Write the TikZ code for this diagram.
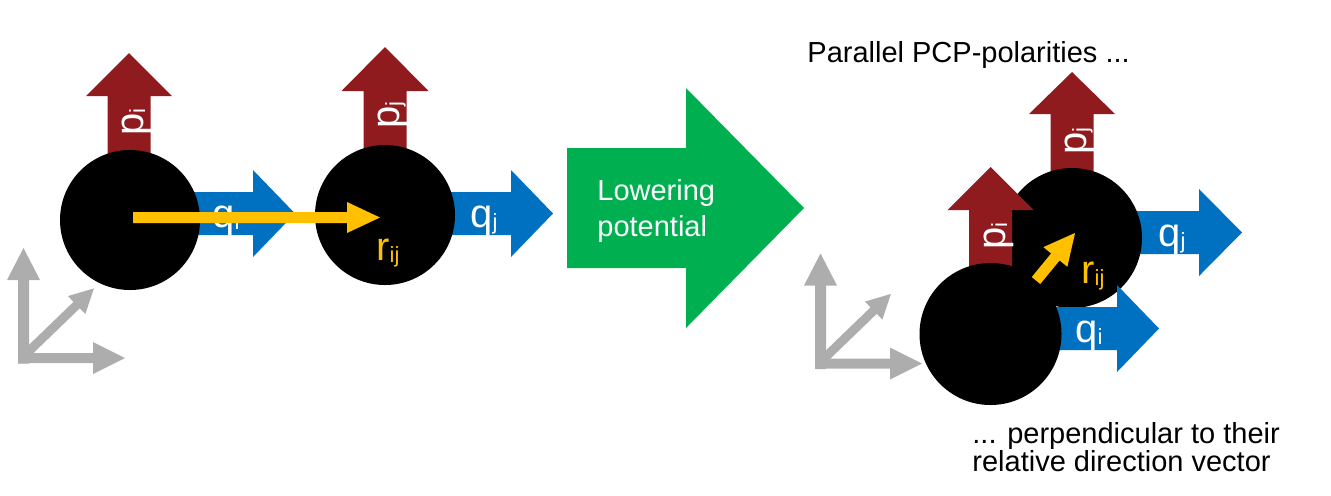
\documentclass[tikz,border=0pt]{standalone}
\usepackage{fontspec}
\setmainfont{Liberation Sans}

\newlength{\du}
\setlength{\du}{0.5pt}

\definecolor{polred}{rgb}{0.560000, 0.105000, 0.120000}
\definecolor{polblue}{rgb}{0.000000, 0.440000, 0.753000}
\definecolor{lowgreen}{rgb}{0.000000, 0.690000, 0.314000}
\definecolor{relyellow}{rgb}{1.000000, 0.753000, 0.000000}
\definecolor{axgray}{rgb}{0.680000, 0.680000, 0.680000}

% colour, x, y, angle, length, shaft half width, head half width, head length
\newcommand{\blockarrow}[8]{%
\fill[#1,shift={(#2\du,#3\du)},rotate=#4]
  (0,{-#6*\du}) -- ({(#5-#8)*\du},{-#6*\du}) -- ({(#5-#8)*\du},{-#7*\du})
  -- ({#5*\du},0) -- ({(#5-#8)*\du},{#7*\du}) -- ({(#5-#8)*\du},{#6*\du})
  -- (0,{#6*\du}) -- cycle;}

% grey frame at origin x, y
\newcommand{\refaxes}[2]{%
\begin{scope}[shift={(#1\du,#2\du)}]
\blockarrow{axgray}{0}{5.5}{-90}{115.5}{5.5}{16.5}{32}
\blockarrow{axgray}{-5.5}{0}{0}{107}{5}{16}{32}
\blockarrow{axgray}{3.5}{-5}{-44}{93}{4.5}{12.5}{24}
\end{scope}}

\newcommand{\lsub}[1]{\raisebox{-1pt}{\fontsize{11}{11}\selectfont #1}}

\begin{document}
\begin{tikzpicture}[
  ball/.style={circle,fill=black,inner sep=0pt,minimum size=140\du},
  lbl/.style={inner sep=0pt,text=white,font=\fontsize{20}{20}\selectfont},
  txt/.style={inner sep=0pt,font=\fontsize{14.5}{14}\selectfont}]
\pgftransformxscale{1.000000}
\pgftransformyscale{-1.000000}
\useasboundingbox (0\du,0\du) rectangle (1331\du,495\du);

% before
\refaxes{23.5}{358}
\blockarrow{polred}{129}{220}{-90}{167}{21.5}{43}{43}
\blockarrow{polred}{385}{215}{-90}{168}{21.5}{43.5}{44}
\blockarrow{polblue}{130}{213.5}{0}{165}{21.5}{43.5}{42}
\blockarrow{polblue}{385}{213.5}{0}{168}{21.5}{43.5}{42}
\node[ball] (ci) at (130\du,220\du) {};
\node[ball] (cj) at (385\du,215\du) {};
\node[lbl,rotate=90,anchor=base west] (pi) at (143\du,136\du) {p\lsub{i}};
\node[lbl,rotate=90,anchor=base west] (pj) at (399\du,129\du) {p\lsub{j}};
\node[lbl,anchor=base west] (qi) at (212\du,227\du) {q\lsub{i}};
\node[lbl,anchor=base west] (qj) at (470\du,227\du) {q\lsub{j}};
\blockarrow{relyellow}{133}{217.5}{0}{247}{5.5}{15.5}{33}
\node[lbl,text=relyellow,anchor=base west] (rij) at (376\du,260\du) {r\lsub{ij}};

% lowering
\blockarrow{lowgreen}{567}{208}{0}{237}{60}{120}{118}
\node[txt,text=white,align=left,anchor=base west,font=\fontsize{14.5}{18}\selectfont] (low) at (597\du,236\du) {Lowering\\potential};

% after
\node[txt,anchor=base west] (par) at (807\du,62\du) {Parallel PCP-polarities ...};
\refaxes{820.5}{363.5}
\blockarrow{polred}{1072}{238}{-90}{166}{21.5}{43}{42}
\blockarrow{polblue}{1072}{232.5}{0}{170}{21.5}{43.5}{43}
\node[ball] (cj2) at (1072\du,238\du) {};
\blockarrow{polred}{990.5}{334}{-90}{167}{21.5}{43}{43}
\blockarrow{polblue}{990}{328.5}{0}{169}{21.5}{43.5}{42}
\node[ball,minimum size=142\du] (ci2) at (990.5\du,334\du) {};
\blockarrow{relyellow}{1036}{280.5}{-50.6}{61.5}{5.5}{15.5}{31}
\node[lbl,rotate=90,anchor=base west] (pi2) at (1005\du,250\du) {p\lsub{i}};
\node[lbl,rotate=90,anchor=base west] (pj2) at (1086\du,155\du) {p\lsub{j}};
\node[lbl,anchor=base west] (qi2) at (1075\du,342\du) {q\lsub{i}};
\node[lbl,anchor=base west] (qj2) at (1158\du,246\du) {q\lsub{j}};
\node[lbl,text=relyellow,anchor=base west] (rij2) at (1081\du,283\du) {r\lsub{ij}};
\node[txt,align=left,anchor=base west] (perp) at (972\du,471\du) {... perpendicular to their\\relative direction vector};
\end{tikzpicture}
\end{document}
